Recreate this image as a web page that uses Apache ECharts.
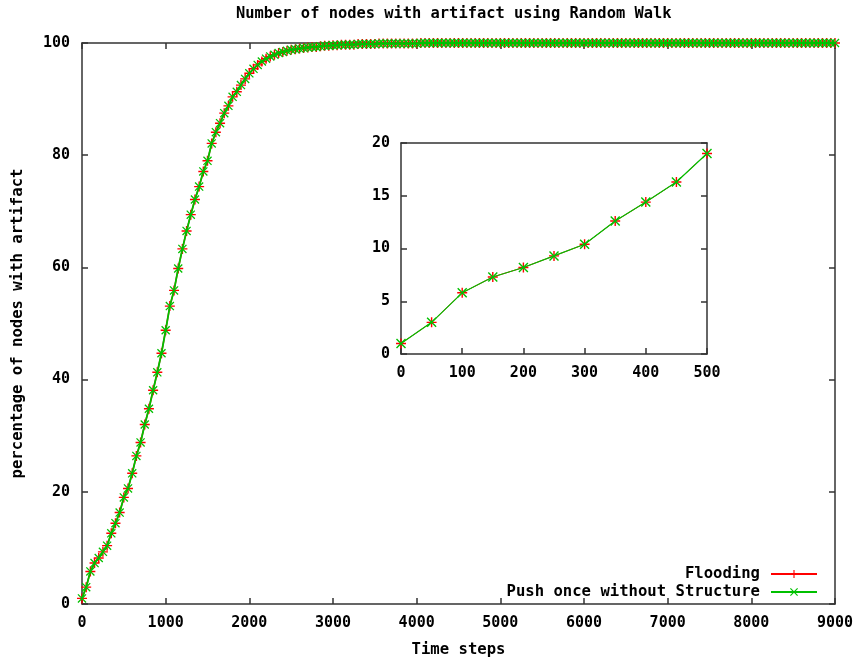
<!DOCTYPE html>
<html>
<head>
<meta charset="utf-8">
<script src="https://cdn.jsdelivr.net/npm/echarts@6/dist/echarts.min.js"></script>
<style>
html,body{margin:0;padding:0;background:#fff;}
#chart{width:860px;height:663px;}
</style>
</head>
<body>
<div id="chart"></div>
<script>
const titleText = 'Number of nodes with artifact using Random Walk';
const xAxisTitle = 'Time steps';
const yAxisTitle = 'percentage of nodes with artifact';
const seriesNames = ['Flooding', 'Push once without Structure'];
const stepSize = 50;
const mainXTicks = [0, 1000, 2000, 3000, 4000, 5000, 6000, 7000, 8000, 9000];
const mainYTicks = [0, 20, 40, 60, 80, 100];
const insetXTicks = [0, 100, 200, 300, 400, 500];
const insetYTicks = [0, 5, 10, 15, 20];
const insetPointCount = 11;

// percentage of nodes with artifact, one value every 50 time steps (0 .. 9000)
const percentValues = [
  1.0, 3.0, 5.8, 7.3, 8.2, 9.3, 10.4, 12.6, 14.4, 16.3,
  19.0, 20.6, 23.3, 26.4, 28.8, 32.0, 34.8, 38.1, 41.3, 44.7,
  48.8, 53.1, 55.9, 59.8, 63.3, 66.5, 69.4, 72.1, 74.4, 77.1,
  79.0, 82.1, 84.1, 85.7, 87.5, 88.8, 90.4, 91.3, 92.5, 93.6,
  94.6, 95.4, 96.1, 96.7, 97.2, 97.6, 97.9, 98.2, 98.4, 98.6,
  98.8, 98.9, 99.0, 99.1, 99.2, 99.3, 99.3, 99.4, 99.5, 99.5,
  99.6, 99.6, 99.7, 99.7, 99.7, 99.7, 99.8, 99.8, 99.8, 99.8,
  99.8, 99.9, 99.9, 99.9, 99.9, 99.9, 99.9, 99.9, 99.9, 99.9,
  99.9, 100, 100, 100, 100, 100, 100, 100, 100, 100,
  100, 100, 100, 100, 100, 100, 100, 100, 100, 100,
  100, 100, 100, 100, 100, 100, 100, 100, 100, 100,
  100, 100, 100, 100, 100, 100, 100, 100, 100, 100,
  100, 100, 100, 100, 100, 100, 100, 100, 100, 100,
  100, 100, 100, 100, 100, 100, 100, 100, 100, 100,
  100, 100, 100, 100, 100, 100, 100, 100, 100, 100,
  100, 100, 100, 100, 100, 100, 100, 100, 100, 100,
  100, 100, 100, 100, 100, 100, 100, 100, 100, 100,
  100, 100, 100, 100, 100, 100, 100, 100, 100, 100,
  100
];

const FONT = '"DejaVu Sans Mono", "Liberation Mono", monospace';
const RED = '#ff0000';
const GREEN = '#00c000';
const AXIS = '#333333';
const plusPath = 'path://M4.3,0h1.4v10h-1.4z M0,4.3h10v1.4h-10z';
const crossPath = 'path://M0,1 L1,0 L10,9 L9,10 Z M9,0 L10,1 L1,10 L0,9 Z';

const mainData = percentValues.map((v, i) => [i * stepSize, v]);
const insetData = mainData.slice(0, insetPointCount);
const plainNumber = v => String(v);

function valueAxis(opts) {
  const base = {
    type: 'value',
    axisLine: { show: true, onZero: false, lineStyle: { color: AXIS, width: 1.5 } },
    axisTick: { show: true, inside: true, length: 6, lineStyle: { color: AXIS, width: 1.5 } },
    axisLabel: { show: true, color: '#000', fontFamily: FONT, fontWeight: 'bold', fontSize: 15, formatter: plainNumber },
    splitLine: { show: false }
  };
  return Object.assign(base, opts);
}
function labelStyle(margin) {
  return { color: '#000', fontFamily: FONT, fontWeight: 'bold', fontSize: 15, margin: margin, formatter: plainNumber };
}

const chart = echarts.init(document.getElementById('chart'), null, { renderer: 'canvas' });

const option = {
  backgroundColor: '#ffffff',
  animation: false,
  graphic: [
    { type: 'text', left: 236, top: 6, style: { text: titleText, fill: '#000', font: 'bold 15.4px ' + FONT } }
  ],
  legend: {
    data: seriesNames,
    orient: 'vertical',
    align: 'right',
    right: 42,
    top: 566,
    padding: 0,
    itemWidth: 46,
    itemHeight: 10,
    itemGap: 2,
    selectedMode: false,
    textStyle: { color: '#000', fontFamily: FONT, fontWeight: 'bold', fontSize: 15.6, lineHeight: 16, padding: [0, 6, 0, 0] }
  },
  grid: [
    { left: 82, top: 43, width: 753, height: 562, show: false },
    { left: 401, top: 143, width: 306, height: 211, show: true, backgroundColor: '#fff', borderWidth: 0, z: 5 }
  ],
  xAxis: [
    valueAxis({ gridIndex: 0, min: mainXTicks[0], max: mainXTicks[mainXTicks.length - 1], interval: 1000,
      axisLabel: labelStyle(12),
      name: xAxisTitle, nameLocation: 'middle', nameGap: 38,
      nameTextStyle: { color: '#000', fontFamily: FONT, fontWeight: 'bold', fontSize: 15.6 } }),
    valueAxis({ gridIndex: 0, position: 'top', min: mainXTicks[0], max: mainXTicks[mainXTicks.length - 1], interval: 1000,
      axisLabel: { show: false } }),
    valueAxis({ gridIndex: 1, min: insetXTicks[0], max: insetXTicks[insetXTicks.length - 1], interval: 100,
      axisLabel: labelStyle(12), z: 6 }),
    valueAxis({ gridIndex: 1, position: 'top', min: insetXTicks[0], max: insetXTicks[insetXTicks.length - 1], interval: 100,
      axisTick: { show: false }, axisLabel: { show: false }, z: 6 })
  ],
  yAxis: [
    valueAxis({ gridIndex: 0, min: mainYTicks[0], max: mainYTicks[mainYTicks.length - 1], interval: 20,
      axisLabel: labelStyle(12),
      name: yAxisTitle, nameLocation: 'middle', nameGap: 56,
      nameTextStyle: { color: '#000', fontFamily: FONT, fontWeight: 'bold', fontSize: 15.6 } }),
    valueAxis({ gridIndex: 0, position: 'right', min: mainYTicks[0], max: mainYTicks[mainYTicks.length - 1], interval: 20,
      axisLabel: { show: false } }),
    valueAxis({ gridIndex: 1, min: insetYTicks[0], max: insetYTicks[insetYTicks.length - 1], interval: 5,
      axisLabel: labelStyle(11), z: 6 }),
    valueAxis({ gridIndex: 1, position: 'right', min: insetYTicks[0], max: insetYTicks[insetYTicks.length - 1], interval: 5,
      axisLabel: { show: false }, z: 6 })
  ],
  series: [
    { name: seriesNames[0], type: 'line', xAxisIndex: 0, yAxisIndex: 0, data: mainData,
      symbol: plusPath, symbolSize: 10, symbolKeepAspect: true, showAllSymbol: true,
      itemStyle: { color: RED }, lineStyle: { color: RED, width: 1.5 }, z: 2 },
    { name: seriesNames[1], type: 'line', xAxisIndex: 0, yAxisIndex: 0, data: mainData,
      symbol: crossPath, symbolSize: 9, symbolKeepAspect: true, showAllSymbol: true,
      itemStyle: { color: GREEN }, lineStyle: { color: GREEN, width: 1.8 }, z: 3 },
    { name: seriesNames[0], type: 'line', xAxisIndex: 2, yAxisIndex: 2, data: insetData,
      symbol: plusPath, symbolSize: 10, symbolKeepAspect: true, showAllSymbol: true,
      itemStyle: { color: RED }, lineStyle: { color: RED, width: 1 }, z: 7 },
    { name: seriesNames[1], type: 'line', xAxisIndex: 2, yAxisIndex: 2, data: insetData,
      symbol: crossPath, symbolSize: 10, symbolKeepAspect: true, showAllSymbol: true,
      itemStyle: { color: GREEN }, lineStyle: { color: GREEN, width: 1.2 }, z: 8 }
  ]
};
chart.setOption(option);
</script>
</body>
</html>
